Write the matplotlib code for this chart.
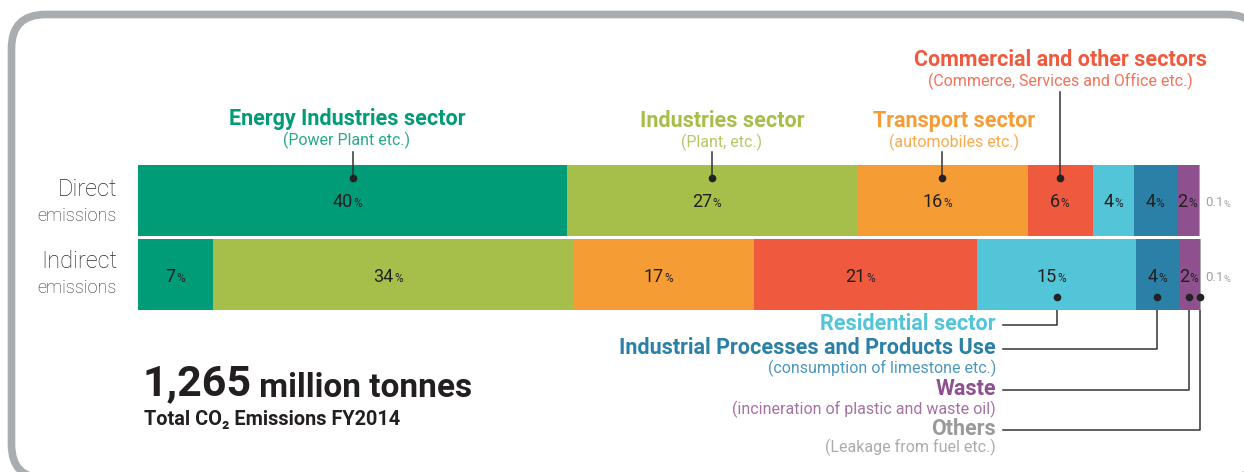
import matplotlib
matplotlib.use("Agg")
import matplotlib.pyplot as plt
from matplotlib.patches import FancyBboxPatch
from matplotlib.transforms import blended_transform_factory as blend

# ---------------- data ----------------
sectors = ["Energy Industries", "Industries", "Transport", "Commercial and other",
           "Residential", "Industrial Processes and Products Use", "Waste", "Others"]
row_labels = ["Direct", "Indirect"]
direct = [40.4, 27.3, 16.1, 6.1, 3.9, 4.0, 2.1, 0.1]
indirect = [7.1, 33.9, 17.0, 21.0, 15.0, 4.0, 2.0, 0.1]
colors = ["#009b77", "#a6be4a", "#f59c34", "#ef5a3f",
          "#52c5d8", "#2a80a6", "#8e508e", "#a8a8a8"]
top_titles = ["Energy Industries sector", "Industries sector", "Transport sector",
              "Commercial and other sectors"]
top_subs = ["(Power Plant etc.)", "(Plant, etc.)", "(automobiles etc.)",
            "(Commerce, Services and Office etc.)"]
bottom_titles = ["Residential sector", "Industrial Processes and Products Use", "Waste", "Others"]
bottom_subs = ["", "(consumption of limestone etc.)",
               "(incineration of plastic and waste oil)", "(Leakage from fuel etc.)"]
total_value = "1,265"
total_unit = "million tonnes"
total_caption = "Total CO\u2082 Emissions FY2014"

FONT = ["Roboto", "DejaVu Sans"]
plt.rcParams["font.family"] = FONT
DARK = "#231f20"

W, H = 1244, 472
fig = plt.figure(figsize=(W / 100, H / 100), dpi=100)
bg = fig.add_axes([0, 0, 1, 1])
bg.set_xlim(0, W)
bg.set_ylim(H, 0)
bg.axis("off")

frame = FancyBboxPatch((11.5, 14.5), 1249, 464,
                       boxstyle="round,pad=0,rounding_size=34",
                       fc="white", ec="#a9adb0", lw=5.5, zorder=0)
bg.add_patch(frame)

# ---------------- bars ----------------
L, R, T, B = 138, 1201, 165, 310
ax = fig.add_axes([L / W, 1 - B / H, (R - L) / W, (B - T) / H])
ax.set_xlim(0, max(sum(direct), sum(indirect)))
ax.set_ylim(1.48, -0.48)
ax.axis("off")
ax.patch.set_alpha(0)

tr = blend(ax.transData, bg.transData)
baselines = [207, 282]
centers = {}
for r, vals in enumerate([direct, indirect]):
    lefts = [sum(vals[:i]) for i in range(len(vals))]
    ax.barh([r] * len(vals), vals, left=lefts, color=colors, height=0.96, linewidth=0)
    centers[r] = [lefts[i] + vals[i] / 2 for i in range(len(vals))]
    for i, v in enumerate(vals):
        c = centers[r][i]
        if v >= 1:
            ax.text(c, baselines[r], f"{v:.0f}", transform=tr, ha="right", va="baseline",
                    fontsize=13, color=DARK)
            ax.text(c + 0.05, baselines[r], "%", transform=tr, ha="left", va="baseline",
                    fontsize=8.5, color=DARK)
        else:
            t = bg.text(R + 4, baselines[r] - 1, f"{v:.1f}", ha="left", va="baseline",
                        fontsize=9.5, color="#a0a0a0")
            bg.annotate("%", xy=(1, 0), xycoords=t, ha="left", va="bottom",
                        fontsize=6.5, color="#a0a0a0")

# row labels
for r, (y1, y2) in enumerate([(190, 216), (262, 288)]):
    bg.text(117, y1, row_labels[r], ha="right", va="center", fontsize=17,
            fontweight="light", color="#2a2a2a")
    bg.text(117, y2, "emissions", ha="right", va="center", fontsize=13,
            fontweight="light", color="#2a2a2a")

# ---------------- top callouts ----------------
title_x = [347, 722, 954, None]
title_y = [119, 121, 121, 60]
line_top = [152, 152, 152, 92]
for k in range(4):
    cx = centers[0][k]
    px = tr.transform((cx, 0))[0]
    tx = bg.transData.inverted().transform((px, 0))[0] if title_x[k] is None else title_x[k]
    bg.text(tx, title_y[k], top_titles[k], ha="center", va="center", fontsize=15.5,
            fontweight="bold", color=colors[k])
    bg.text(tx, title_y[k] + 21, top_subs[k], ha="center", va="center", fontsize=11.5,
            color=colors[k], alpha=0.85)
    ax.plot([cx, cx], [line_top[k], 178], transform=tr, color="#333333", lw=1.1,
            clip_on=False)
    ax.plot([cx], [178], transform=tr, marker="o", ms=4.5, color="#222222", clip_on=False)

# ---------------- bottom callouts ----------------
btitle_y = [324, 348, 389, 429]
bsub_y = [None, 368, 409, 447]
btitle_colors = ["#52c5d8", "#2a80a6", "#8e508e", "#9a9a9a"]
bsub_colors = ["#52c5d8", "#4a97c0", "#a571a5", "#ababab"]
for k in range(4):
    idx = 4 + k
    cx = centers[1][idx]
    bg.text(996, btitle_y[k], bottom_titles[k], ha="right", va="center", fontsize=15.5,
            fontweight="bold", color=btitle_colors[k])
    if bottom_subs[k]:
        bg.text(996, bsub_y[k], bottom_subs[k], ha="right", va="center", fontsize=11.5,
                color=bsub_colors[k])
    px = tr.transform((cx, 0))[0]
    xb = bg.transData.inverted().transform((px, 0))[0]
    bg.plot([1003, xb, xb], [btitle_y[k] + 1, btitle_y[k] + 1, 297], color="#333333",
            lw=1.1, zorder=3)
    ax.plot([cx], [297], transform=tr, marker="o", ms=4.5, color="#222222", clip_on=False,
            zorder=4)

# ---------------- total ----------------
t1 = bg.text(142, 395, total_value, ha="left", va="baseline", fontsize=31,
             fontweight="bold", color=DARK)
bg.annotate(" " + total_unit, xy=(1, 0), xycoords=t1, ha="left", va="bottom",
            fontsize=24, fontweight="bold", color=DARK)
bg.text(144, 425, total_caption, ha="left", va="baseline", fontsize=14.3,
        fontweight="bold", color=DARK)

fig.savefig("out.png", dpi=100)
